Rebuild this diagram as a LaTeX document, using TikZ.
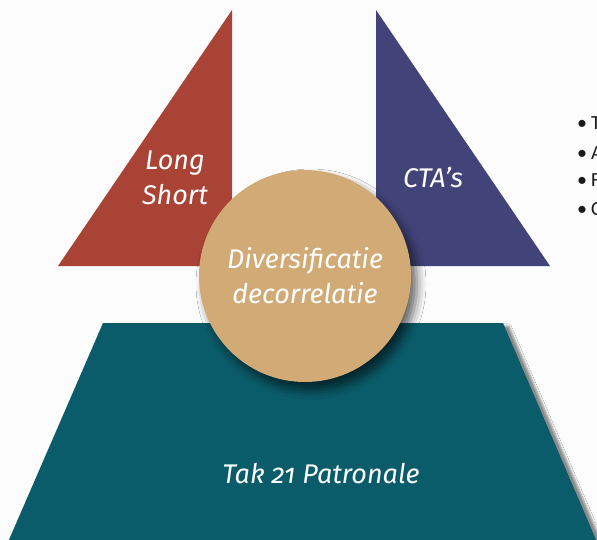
\documentclass[tikz,border=0pt]{standalone}
\usepackage{fontspec}
\setmainfont{Fira Sans}[Numbers=OldStyle]
\newfontfamily\bulletfont{Carlito}
\usetikzlibrary{shadows.blur}
\definecolor{longred}{HTML}{A94335}
\definecolor{ctablue}{HTML}{424479}
\definecolor{diversand}{HTML}{D1AA75}
\definecolor{takteal}{HTML}{0B5C6B}
\definecolor{paper}{HTML}{FCFCFC}
\tikzset{
  label text/.style={text=white, font=\fontsize{27}{35}\selectfont\itshape, align=center, inner sep=0pt},
  bullet item/.style={anchor=west, inner sep=0pt, text=black!90, font=\bulletfont\fontsize{20}{22}\selectfont},
}
\begin{document}
\begin{tikzpicture}[x=1pt,y=-1pt]
\fill[paper] (0,0) rectangle (597,540);
\useasboundingbox (0,0) rectangle (597,540);
% base
\fill[takteal, blur shadow={shadow xshift=6pt, shadow yshift=-3pt, shadow opacity=45}] (103,323) -- (503,323) -- (600,549) -- (5,549) -- cycle;
% side triangles
\fill[longred] (232,10) -- (232,266) -- (58,266) -- cycle;
\fill[ctablue] (376,10) -- (550,266) -- (376,266) -- cycle;
% centre
\node[circle, fill=diversand, minimum size=212pt, inner sep=0pt,
  blur shadow={shadow xshift=6pt, shadow yshift=-8pt, shadow opacity=60, shadow blur radius=9pt}] (div) at (305,276) {};
\node[label text] (divtext) at (div.center) {Diversificatie\\decorrelatie};
\node[label text] (long) at (175,178) {Long\\Short};
\node[label text] (cta) at (433,177) {CTA's};
\node[label text] (tak) at (321,474) {Tak 21 Patronale};
% list on the right
\foreach \y/\t [count=\i] in {123/T,153/A,180/F,209/C}
  \node[bullet item] (item\i) at (577,\y) {\textbullet\hspace{4pt}\t};
\end{tikzpicture}
\end{document}
